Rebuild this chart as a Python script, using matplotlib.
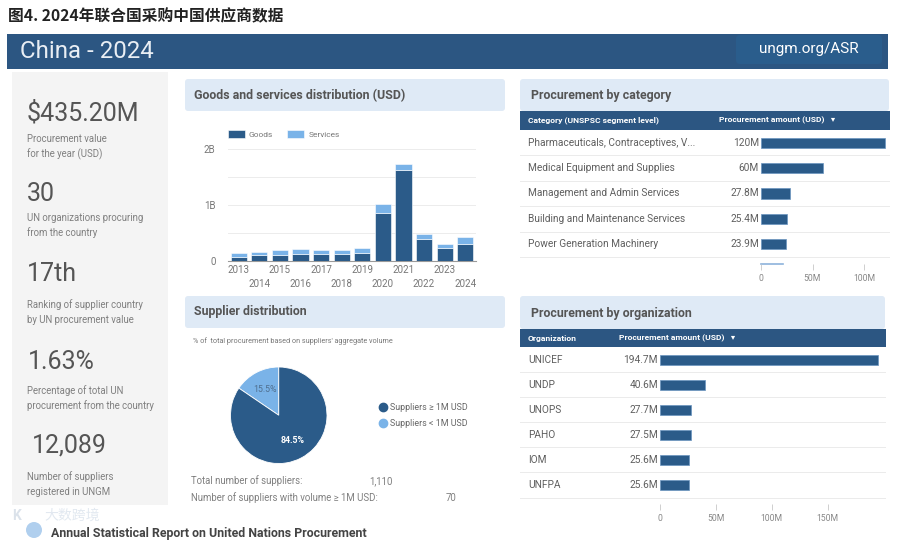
import numpy as np
import matplotlib
matplotlib.use('Agg')
import matplotlib.pyplot as plt
from matplotlib import patches
from matplotlib.lines import Line2D
from matplotlib.transforms import blended_transform_factory

plt.rcParams['font.family'] = ['Roboto', 'Noto Sans CJK SC', 'DejaVu Sans']

# ==============================================================================
# data

years = list(range(2013, 2025))
goods = [0.08, 0.11, 0.10, 0.13, 0.13, 0.12, 0.15, 0.86, 1.63, 0.39, 0.23, 0.31]
services = [0.07, 0.05, 0.10, 0.09, 0.07, 0.08, 0.08, 0.15, 0.11, 0.10, 0.08, 0.12]

kpi_values = ['$435.20M', '30', '17th', '1.63%', '12,089']
kpi_texts = [['Procurement value', 'for the year (USD)'],
             ['UN organizations procuring', 'from the country'],
             ['Ranking of supplier country', 'by UN procurement value'],
             ['Percentage of total UN', 'procurement from the country'],
             ['Number of suppliers', 'registered in UNGM']]

categories = ['Pharmaceuticals, Contraceptives, V...', 'Medical Equipment and Supplies',
              'Management and Admin Services', 'Building and Maintenance Services',
              'Power Generation Machinery']
category_amounts = [120, 60, 27.8, 25.4, 23.9]

orgs = ['UNICEF', 'UNDP', 'UNOPS', 'PAHO', 'IOM', 'UNFPA']
org_amounts = [194.7, 40.6, 27.7, 27.5, 25.6, 25.6]

supplier_share = [15.5, 84.5]
supplier_names = ['Suppliers \u2265 1M USD', 'Suppliers < 1M USD']
total_suppliers = '1,110'
big_suppliers = '70'

# ==============================================================================
# colours / helpers

DARK = '#2b5b89'
LIGHT = '#7ab3e8'
HEAD = '#2c5682'
PANEL = '#dfeaf6'
GREY = '#f4f4f4'
TXT = '#5f5f5f'
TXT2 = '#808080'

W, H = 900, 543
fig = plt.figure(figsize=(W / 100, H / 100), dpi=100)
fig.patch.set_facecolor('white')

bg = fig.add_axes([0, 0, 1, 1], zorder=0)
bg.set_xlim(0, W)
bg.set_ylim(H, 0)
bg.axis('off')


def px_axes(x0, y0, x1, y1):
    return fig.add_axes([x0 / W, 1 - y1 / H, (x1 - x0) / W, (y1 - y0) / H], zorder=2)


def box(x0, y0, x1, y1, color, r=0):
    if r > 0:
        p = patches.FancyBboxPatch((x0, y0), x1 - x0, y1 - y0,
                                   boxstyle='round,pad=0,rounding_size=%g' % r,
                                   fc=color, ec='none')
    else:
        p = patches.Rectangle((x0, y0), x1 - x0, y1 - y0, fc=color, ec='none')
    bg.add_patch(p)


# ==============================================================================
# title and header

bg.text(8, 16, '图4. 2024年联合国采购中国供应商数据', fontsize=11.3, fontweight='bold',
        color='#222222', va='center', family=['Noto Sans CJK SC', 'DejaVu Sans'])

box(7, 34, 888, 69, HEAD)
bg.text(20, 51, 'China - 2024', fontsize=17.3, color='#e9eef4', va='center')
box(736, 35, 882, 64, '#2a5d8c', r=4)
bg.text(809, 49.5, 'ungm.org/ASR', fontsize=11, color='white', va='center', ha='center')

# ==============================================================================
# left KPI panel

box(12, 72, 168, 505, GREY)
kpi_y = [113, 194, 274, 362, 446]
kpi_x = [27, 27, 27, 28, 32]
desc_y = [139, 218, 305, 391, 477]
for v, t, y, x, dy in zip(kpi_values, kpi_texts, kpi_y, kpi_x, desc_y):
    bg.text(x, y, v, fontsize=18, color='#555555', va='center')
    bg.text(27, dy, t[0], fontsize=6.9, color=TXT2, va='center')
    bg.text(27, dy + 15, t[1], fontsize=6.9, color=TXT2, va='center')

# ==============================================================================
# goods and services

box(185, 79, 505, 111, PANEL, r=3)
bg.text(194, 96, 'Goods and services distribution (USD)', fontsize=8.9,
        fontweight='bold', color='#555555', va='center')

ax1 = px_axes(228, 149, 476, 261)
xpos = np.arange(len(years))
ax1.bar(xpos, goods, 0.78, color=DARK, edgecolor='white', lw=0.4, label='Goods', zorder=3)
ax1.bar(xpos, services, 0.78, bottom=goods, color=LIGHT, edgecolor='white', lw=0.4,
        label='Services', zorder=3)
ax1.set_xlim(-0.52, len(years) - 0.48)
ax1.set_ylim(0, 2)
ax1.set_yticks([0, 0.5, 1, 1.5, 2], ['0', '', '1B', '', '2B'])
ax1.set_xticks(xpos, [str(y) if i % 2 == 0 else '\n' + str(y) for i, y in enumerate(years)])
for lab in ax1.get_xticklabels():
    lab.set_linespacing(1.45)
ax1.grid(axis='y', color='#ececec', lw=0.7, zorder=0)
for s in ['top', 'right', 'left']:
    ax1.spines[s].set_visible(False)
ax1.spines['bottom'].set_color('#9a9a9a')
ax1.spines['bottom'].set_linewidth(0.8)
ax1.tick_params(length=0, labelsize=7, labelcolor='#777777')
ax1.tick_params(axis='y', pad=9)
ax1.tick_params(axis='x', pad=3)
ax1.patch.set_alpha(0)
ax1.legend(loc='center left', bbox_to_anchor=(0, 1.135), ncol=2, frameon=False,
           fontsize=6, handlelength=2.0, handleheight=1.0, handletextpad=0.5,
           columnspacing=1.7, borderaxespad=0, borderpad=0, labelcolor='#777777')

# ==============================================================================
# supplier distribution

box(185, 296, 505, 328, PANEL, r=3)
bg.text(194, 312, 'Supplier distribution', fontsize=8.9, fontweight='bold',
        color='#555555', va='center')
bg.text(193, 341, "% of  total procurement based on suppliers' aggregate volume",
        fontsize=5.2, color='#777777', va='center')

axp = px_axes(230.5, 367, 327, 463.5)
wedges, texts, autotexts = axp.pie(supplier_share, colors=[LIGHT, DARK], startangle=90,
                                   counterclock=True, autopct='%.1f%%', pctdistance=0.6,
                                   wedgeprops=dict(edgecolor='white', lw=0.6),
                                   textprops=dict(fontsize=6.3))
autotexts[0].set_color('#4f6f8f')
autotexts[1].set_color('white')
autotexts[1].set_fontweight('bold')
axp.set_xlim(-1, 1)
axp.set_ylim(-1, 1)
axp.set_aspect('equal')

handles = [Line2D([], [], marker='o', ls='none', color=DARK, markersize=6),
           Line2D([], [], marker='o', ls='none', color=LIGHT, markersize=6)]
fig.legend(handles, supplier_names, loc='center left',
           bbox_to_anchor=(378 / W, 1 - 415.5 / H), frameon=False, fontsize=6.4,
           handletextpad=0.2, labelspacing=0.7, borderpad=0, borderaxespad=0,
           labelcolor='#666666', handlelength=1.2)

bg.text(191, 481, 'Total number of suppliers:', fontsize=6.9, color=TXT2, va='center')
bg.text(369, 481, total_suppliers, fontsize=6.9, color=TXT2, va='center')
bg.text(191, 498, 'Number of suppliers with volume \u2265 1M USD:', fontsize=6.9,
        color=TXT2, va='center')
bg.text(446, 498, big_suppliers, fontsize=6.9, color=TXT2, va='center')


# ==============================================================================
# table-like bar charts

def table_chart(names, values, col1, x_left, x_right, y_head, y_rows0, y_rows1,
                bar_x0, px_per_m, ticks, title, title_y):
    box(x_left, title_y - 17, x_right, y_head, PANEL, r=3)
    bg.text(x_left + 11, title_y, title, fontsize=8.9, fontweight='bold',
            color='#555555', va='center')
    box(x_left, y_head, x_right + 1, y_rows0, HEAD)
    hy = (y_head + y_rows0) / 2
    bg.text(x_left + 8, hy, col1, fontsize=6.1, fontweight='bold', color='white', va='center')

    ax = px_axes(bar_x0, y_rows0, x_right, y_rows1)
    n = len(names)
    ypos = np.arange(n)
    ax.barh(ypos, values, 0.4, color=DARK, edgecolor='#6a94bf', lw=0.5)
    ax.set_xlim(0, (x_right - bar_x0) / px_per_m)
    ax.set_ylim(n - 0.5, -0.5)
    ax.set_yticks([])
    ax.set_xticks(ticks, ['0' if t == 0 else '%dM' % t for t in ticks])
    for s in ['top', 'right', 'left', 'bottom']:
        ax.spines[s].set_visible(False)
    ax.spines['bottom'].set_position(('outward', 5))
    ax.tick_params(axis='x', length=4, width=0.6, color='#c8c8c8', labelsize=6.2,
                   labelcolor='#888888', pad=3)
    ax.patch.set_alpha(0)

    trans = blended_transform_factory(bg.transData, ax.transData)
    for i, (nm, v) in enumerate(zip(names, values)):
        ax.text(x_left + 8, i, nm, transform=trans, fontsize=7.3, color=TXT,
                va='center', ha='left')
        ax.annotate('%gM' % v, (0, i), xytext=(-1.5, 0), textcoords='offset points',
                    fontsize=7.3, color=TXT, va='center', ha='right')
        fig.add_artist(Line2D([x_left, x_right], [i + 0.5, i + 0.5], transform=trans,
                              color='#ebebeb', lw=0.7))
    return ax, hy


axc, hy = table_chart(categories, category_amounts, 'Category (UNSPSC segment level)',
                      520, 889, 111, 130, 257, 761, 1.03, [0, 50, 100],
                      'Procurement by category', 96)
bg.text(719, hy, 'Procurement amount (USD)   \u25be', fontsize=6.1, fontweight='bold',
        color='white', va='center')
bg.plot([761, 783], [264, 264], color='#8db3dc', lw=1.2)

axo, hy = table_chart(orgs, org_amounts, 'Organization',
                      520, 885, 329, 347, 497.5, 660, 1.118, [0, 50, 100, 150],
                      'Procurement by organization', 313)
bg.text(619, hy, 'Procurement amount (USD)   \u25be', fontsize=6.1, fontweight='bold',
        color='white', va='center')

# ==============================================================================
# footer

bg.add_patch(patches.Circle((34, 530), 8, fc='#9cc3ea', ec='none', alpha=0.8))
bg.text(51, 533, 'Annual Statistical Report on United Nations Procurement', fontsize=8.9,
        fontweight='bold', color='#444444', va='center')
# watermark, kept just above the footer line
bg.text(12, 516, 'K', fontsize=10, color='#d7dfe8', va='center', fontweight='bold', alpha=0.9)
bg.text(44, 516, '大数跨境', fontsize=10, color='#dde5ee', va='center', alpha=0.85,
        family=['Noto Sans CJK SC', 'DejaVu Sans'])

plt.savefig('out.png', dpi=100, facecolor='white')
plt.close()
